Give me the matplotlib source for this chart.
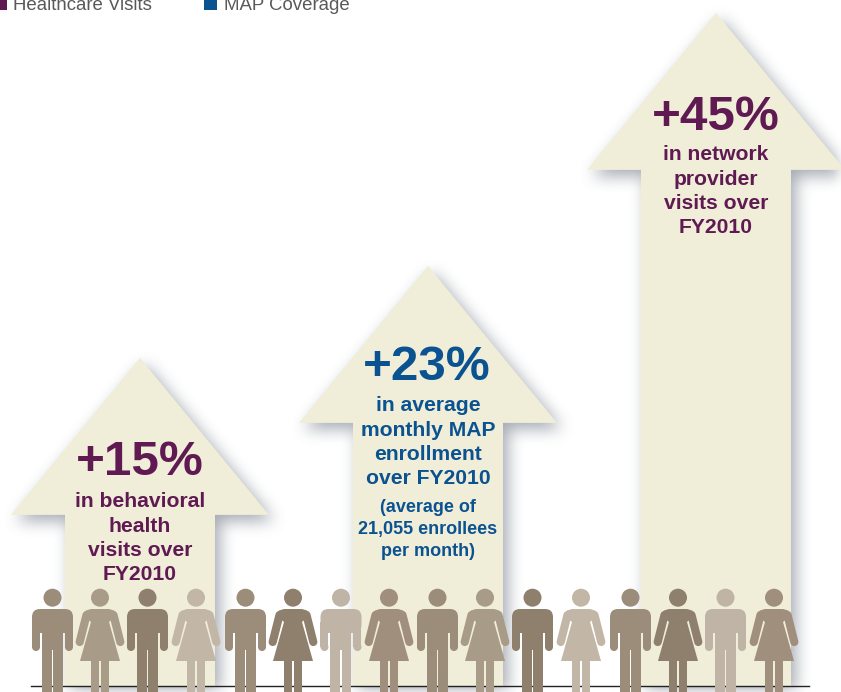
import numpy as np
import matplotlib
matplotlib.use('Agg')
import matplotlib.pyplot as plt
from matplotlib.path import Path
from matplotlib.patches import Polygon, Circle, Rectangle, FancyBboxPatch

# values
percents = [15, 23, 45]
big_labels = ['+15%', '+23%', '+45%']
main_lines = [
    ['in behavioral', 'health', 'visits over', 'FY2010'],
    ['in average', 'monthly MAP', 'enrollment', 'over FY2010'],
    ['in network', 'provider', 'visits over', 'FY2010'],
]
note_lines = [[], ['(average of', '21,055 enrollees', 'per month)'], []]
arrow_groups = ['health', 'map', 'health']
legend_labels = ['Healthcare Visits', 'MAP Coverage']
people_sex = ['m', 'f'] * 8
people_color = ['#9c8c7a', '#a89b88', '#8f7f6d', '#c2b6a6', '#9c8c7a', '#8f7f6d', '#bfb4a5', '#a08f7c',
                '#9c8c7a', '#a89b88', '#8f7f6d', '#c2b6a6', '#9c8c7a', '#8f7f6d', '#bfb4a5', '#a08f7c']

PURPLE = '#5f1a52'
BLUE = '#0a5290'
CREAM = '#f0edd9'
GREY = '#58595b'
group_color = {'health': PURPLE, 'map': BLUE}
PX = 0.72  # points per pixel at dpi 100

plt.rcParams['font.family'] = ['Liberation Sans', 'DejaVu Sans']

fig = plt.figure(figsize=(8.41, 6.92), dpi=100)
ax = fig.add_axes([0, 0, 1, 1])

base_y = 686
centers = [140, 428, 716]
big_x_shift = [0, -1, 0]
big_shift = [4, 1, 4]
line_shift = [3, -1, 1]


def arrow_top(p):
    # arrow height grows with the percent value
    return base_y - (155.6 + 11.5 * p)


def arrow_pts(cx, top):
    head = top + 157
    return [(cx, top), (cx + 129, head), (cx + 75, head), (cx + 75, base_y),
            (cx - 75, base_y), (cx - 75, head), (cx - 129, head)]


def blur(a, r):
    # box blur along both axes, three passes is close enough to a gaussian
    k = np.ones(2 * r + 1) / (2 * r + 1)
    for _ in range(3):
        a = np.apply_along_axis(lambda v: np.convolve(v, k, mode='same'), 0, a)
        a = np.apply_along_axis(lambda v: np.convolve(v, k, mode='same'), 1, a)
    return a


# soft shadow as one blurred image
gx, gy = np.meshgrid(np.arange(841) + 0.5, np.arange(692) + 0.5)
grid = np.column_stack([gx.ravel(), gy.ravel()])
mask = np.zeros(gx.shape)
for cx, p in zip(centers, percents):
    moved = [(x + 5, y + 6) for x, y in arrow_pts(cx, arrow_top(p))]
    mask = np.maximum(mask, Path(moved + moved[:1]).contains_points(grid).reshape(gx.shape).astype(float))
soft = blur(mask, 7)
rgba = np.zeros(gx.shape + (4,))
rgba[..., :3] = (0.30, 0.34, 0.40)
rgba[..., 3] = soft * 0.5
ax.imshow(rgba, extent=(0, 841, 692, 0), aspect='auto', interpolation='bilinear', zorder=1)

ax.set_xlim(0, 841)
ax.set_ylim(692, 0)
ax.axis('off')

for cx, p in zip(centers, percents):
    ax.add_patch(Polygon(arrow_pts(cx, arrow_top(p)), closed=True, facecolor=CREAM,
                         edgecolor='none', zorder=2))

# texts on the arrows
for k, cx in enumerate(centers):
    top = arrow_top(percents[k])
    col = group_color[arrow_groups[k]]
    ax.text(cx + big_x_shift[k], top + 101 + big_shift[k], big_labels[k], color=col, fontsize=35.6,
            fontweight='bold', ha='center', va='center', zorder=5)
    for i, s in enumerate(main_lines[k]):
        ax.text(cx, top + 141 + line_shift[k] + i * 24.2, s, color=col, fontsize=15.2, fontweight='bold',
                ha='center', va='center', zorder=5)
    for i, s in enumerate(note_lines[k]):
        ax.text(cx, top + 242 + i * 22, s, color=col, fontsize=13, fontweight='bold',
                ha='center', va='center', zorder=5)

ax.plot([31, 809], [base_y, base_y], color='#222222', lw=1.0, zorder=3)


def man(x, c):
    ax.add_patch(Circle((x, 597.7), 9, fc=c, ec='none', zorder=6))
    ax.add_patch(FancyBboxPatch((x - 12.5, 617), 25, 8, boxstyle='round,pad=8,rounding_size=8',
                                fc=c, ec='none', zorder=6))
    ax.add_patch(Rectangle((x - 20.5, 622), 8, 25, fc=c, ec='none', zorder=6))
    ax.add_patch(Rectangle((x + 12.5, 622), 8, 25, fc=c, ec='none', zorder=6))
    ax.add_patch(Circle((x - 16.5, 647), 4, fc=c, ec='none', zorder=6))
    ax.add_patch(Circle((x + 16.5, 647), 4, fc=c, ec='none', zorder=6))
    ax.add_patch(Rectangle((x - 10.5, 617), 21, 33, fc=c, ec='none', zorder=6))
    ax.add_patch(Rectangle((x - 10.5, 650), 9.7, 42, fc=c, ec='none', zorder=6))
    ax.add_patch(Rectangle((x + 0.8, 650), 9.7, 42, fc=c, ec='none', zorder=6))


def woman(x, c):
    ax.add_patch(Circle((x, 597.7), 9, fc=c, ec='none', zorder=6))
    ax.add_patch(Polygon([(x - 9, 609), (x + 9, 609), (x + 14, 610.5), (x + 17, 615), (x + 9, 622),
                          (x + 20, 661), (x - 20, 661), (x - 9, 622), (x - 17, 615), (x - 14, 610.5)],
                         closed=True, fc=c, ec='none', zorder=6))
    for s in (-1, 1):
        ax.plot([x + s * 13.5, x + s * 20.3], [615, 642], color=c, lw=8.2 * PX,
                solid_capstyle='round', zorder=6)
    ax.add_patch(Rectangle((x - 9.3, 661), 8.3, 31, fc=c, ec='none', zorder=6))
    ax.add_patch(Rectangle((x + 1, 661), 8.3, 31, fc=c, ec='none', zorder=6))


people_x = [52.5, 100, 147.5, 196, 245.5, 293, 341, 389, 437.5, 485, 532.5, 581, 630.5, 678, 725.5, 774]
for x, sex, c in zip(people_x, people_sex, people_color):
    if sex == 'm':
        man(x, c)
    else:
        woman(x, c)

# legend, cut by the top edge like the original
ax.add_patch(Rectangle((-6, -4), 13, 14, fc=PURPLE, ec='none', zorder=6))
ax.add_patch(Rectangle((204, -4), 13, 14, fc=BLUE, ec='none', zorder=6))
ax.text(13, 9.5, legend_labels[0], color=GREY, fontsize=13.4, ha='left', va='baseline', zorder=6)
ax.text(224, 9.5, legend_labels[1], color=GREY, fontsize=13.4, ha='left', va='baseline', zorder=6)

fig.savefig('out.png', dpi=100)
